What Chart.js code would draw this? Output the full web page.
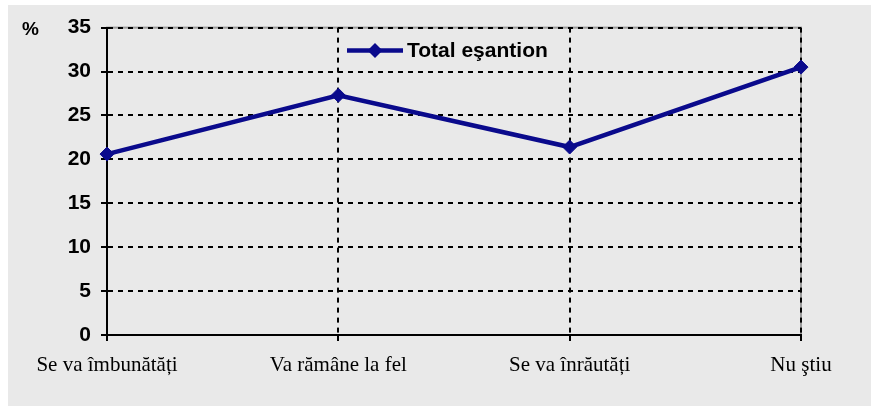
<!DOCTYPE html>
<html lang="ro">
<head>
<meta charset="UTF-8">
<title>Total eşantion</title>
<script src="https://cdn.jsdelivr.net/npm/chart.js@4.4.1/dist/chart.umd.min.js"></script>
<style>
  html, body { margin: 0; padding: 0; background: #ffffff; }
  #wrap { position: absolute; left: 8px; top: 5px; width: 863px; height: 401px; background: #e9e9e9; }
  canvas { display: block; }
</style>
</head>
<body>
<div id="wrap"><canvas id="c" width="863" height="401"></canvas></div>
<script>
// date
const categories = ['Se va îmbunătăți', 'Va rămâne la fel', 'Se va înrăutăți', 'Nu ştiu'];
const totalEsantion = [20.6, 27.3, 21.4, 30.5];
const yMin = 0, yMax = 35, yStep = 5;
const seriesLabel = 'Total eşantion';
const unitLabel = '%';

const navy = '#0a0a8c';
const sans = '"Liberation Sans", Arial, sans-serif';
const serif = '"Liberation Serif", "Times New Roman", serif';

// chenar gri al zonei de desen + "%" + legenda
const extras = {
  id: 'extras',
  beforeDraw(chart) {
    const a = chart.chartArea, ctx = chart.ctx;
    ctx.save();
    ctx.strokeStyle = '#9a9a9a';
    ctx.lineWidth = 2;
    ctx.strokeRect(a.left, a.top, a.right - a.left, a.bottom - a.top);
    ctx.restore();
  },
  afterDraw(chart) {
    const a = chart.chartArea, ctx = chart.ctx;
    ctx.save();
    ctx.fillStyle = '#000';
    ctx.font = 'bold 19px ' + sans;
    ctx.textBaseline = 'middle';
    ctx.fillText(unitLabel, 14, 25);

    // legenda
    const lx = a.left + 240, ly = a.top + 23;
    ctx.strokeStyle = navy;
    ctx.lineWidth = 4.5;
    ctx.beginPath();
    ctx.moveTo(lx, ly);
    ctx.lineTo(lx + 56, ly);
    ctx.stroke();
    ctx.fillStyle = navy;
    ctx.beginPath();
    ctx.moveTo(lx + 28, ly - 7.5);
    ctx.lineTo(lx + 35.5, ly);
    ctx.lineTo(lx + 28, ly + 7.5);
    ctx.lineTo(lx + 20.5, ly);
    ctx.closePath();
    ctx.fill();
    ctx.fillStyle = '#000';
    ctx.font = 'bold 21px ' + sans;
    ctx.fillText(seriesLabel, lx + 60, ly + 1);
    ctx.restore();
  }
};

new Chart(document.getElementById('c'), {
  type: 'line',
  data: {
    labels: categories,
    datasets: [{
      label: seriesLabel,
      data: totalEsantion,
      borderColor: navy,
      backgroundColor: navy,
      borderWidth: 4.5,
      pointStyle: 'rectRot',
      pointRadius: 7,
      pointBorderWidth: 1,
      pointBackgroundColor: navy,
      pointBorderColor: navy,
      tension: 0,
      fill: false
    }]
  },
  options: {
    responsive: false,
    animation: false,
    devicePixelRatio: 1,
    layout: { padding: { top: 21, right: 70, left: 0, bottom: 0 } },
    plugins: { legend: { display: false }, tooltip: { enabled: false } },
    scales: {
      x: {
        offset: false,
        grid: { color: '#000', lineWidth: 2, tickLength: 6, tickColor: '#000', tickWidth: 2, tickBorderDash: [] },
        border: { color: '#000', width: 2, dash: [5, 5] },
        ticks: { color: '#000', font: { family: serif, size: 21 }, padding: 12, maxRotation: 0, autoSkip: false },
        afterFit(s) { s.height = 71; }
      },
      y: {
        min: yMin,
        max: yMax,
        grid: { color: '#000', lineWidth: 2, tickLength: 6, tickColor: '#000', tickWidth: 2, tickBorderDash: [] },
        border: { color: '#000', width: 2, dash: [5, 5] },
        ticks: { stepSize: yStep, color: '#000', font: { family: sans, size: 21, weight: 'bold' }, padding: 10 },
        afterFit(s) { s.width = 99; }
      }
    }
  },
  plugins: [extras]
});
</script>
</body>
</html>
